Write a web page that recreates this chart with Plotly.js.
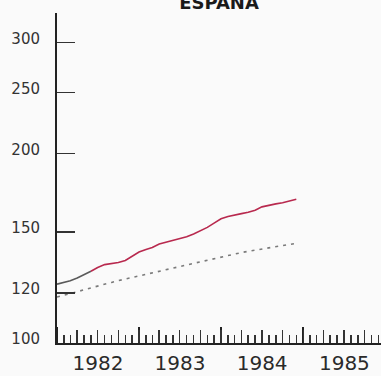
<!DOCTYPE html>
<html>
<head>
<meta charset="utf-8">
<script src="https://cdn.plot.ly/plotly-3.0.1.min.js"></script>
<style>
html,body{margin:0;padding:0;background:#fafafa;}
#chart{width:381px;height:376px;}
</style>
</head>
<body>
<div id="chart"></div>
<script>
// Monthly dates Jan 1982 .. Dec 1984
const months = [
 '1982-01-01','1982-02-01','1982-03-01','1982-04-01','1982-05-01','1982-06-01',
 '1982-07-01','1982-08-01','1982-09-01','1982-10-01','1982-11-01','1982-12-01',
 '1983-01-01','1983-02-01','1983-03-01','1983-04-01','1983-05-01','1983-06-01',
 '1983-07-01','1983-08-01','1983-09-01','1983-10-01','1983-11-01','1983-12-01',
 '1984-01-01','1984-02-01','1984-03-01','1984-04-01','1984-05-01','1984-06-01',
 '1984-07-01','1984-08-01','1984-09-01','1984-10-01','1984-11-01','1984-12-01'
];
// Solid series (index)
const solidValues = [
 124.0,124.8,125.6,126.8,128.2,130.0,131.8,133.2,133.8,134.2,135.2,137.5,
 139.5,140.8,141.8,143.6,144.6,145.6,146.5,147.5,149.0,150.8,152.6,155.0,
 157.5,158.8,159.8,160.5,161.3,162.5,164.5,165.5,166.3,167.0,168.0,169.2
];
// Dotted series (index)
const dottedValues = [
 118.3,119.0,119.8,120.6,121.5,122.4,123.2,124.0,124.8,125.6,126.3,127.0,
 127.7,128.4,129.1,129.8,130.6,131.4,132.2,133.0,133.8,134.6,135.4,136.2,
 137.0,137.8,138.6,139.2,139.8,140.4,141.0,141.6,142.2,142.8,143.4,144.0
];
const yTickVals = [100,120,150,200,250,300];
const yTickText = ['100','120','150','200','250','300'];
const titleText = 'ESPAÑA';

const split = 5;
const traces = [
  {x: months, y: dottedValues, mode:'lines', line:{color:'#7a7a7a', width:1.6, dash:'3px,5px'}, hoverinfo:'skip'},
  {x: months.slice(0, split+1), y: solidValues.slice(0, split+1), mode:'lines', line:{color:'#5a5a5a', width:1.6}, hoverinfo:'skip'},
  {x: months.slice(split), y: solidValues.slice(split), mode:'lines', line:{color:'#b8294e', width:1.6}, hoverinfo:'skip'},
  {x: months, y: dottedValues, xaxis:'x2', mode:'lines', line:{color:'rgba(0,0,0,0)', width:0}, hoverinfo:'skip'}
];

const xr = ['1982-01-01','1985-12-13'];
const layout = {
  width:381, height:376,
  margin:{l:57, r:0, t:13, b:33, pad:0},
  paper_bgcolor:'#fafafa', plot_bgcolor:'#fafafa',
  showlegend:false,
  font:{family:'DejaVu Sans', color:'#2a2a2a'},
  title:{text:titleText, x:0.5, xref:'paper', xanchor:'center', y:0.993, yref:'container', yanchor:'middle',
         font:{family:'DejaVu Sans', size:18, color:'#1a1a1a', weight:'bold'}},
  xaxis:{
    type:'date', range:xr, showgrid:false, zeroline:false,
    showline:true, linecolor:'#222', linewidth:2,
    ticks:'inside', ticklen:16, tickwidth:2, tickcolor:'#222',
    dtick:'M12', tick0:'1982-01-01', tickformat:'%Y', ticklabelmode:'period',
    tickfont:{size:20, color:'#2a2a2a'}, ticklabelstandoff:1,
    minor:{dtick:'M1', tick0:'1982-01-01', ticks:'inside', ticklen:8, tickwidth:1.5, tickcolor:'#333', showgrid:false}
  },
  xaxis2:{
    type:'date', range:xr, overlaying:'x', anchor:'y', side:'bottom',
    showgrid:false, zeroline:false, showline:false, showticklabels:false,
    ticks:'inside', ticklen:13, tickwidth:1.5, tickcolor:'#333',
    dtick:'M3', tick0:'1982-01-01'
  },
  yaxis:{
    type:'log', range:[2, 2.524], showgrid:false, zeroline:false,
    showline:true, linecolor:'#222', linewidth:2,
    ticks:'inside', ticklen:18, tickwidth:1.5, tickcolor:'#333',
    tickvals:yTickVals, ticktext:yTickText,
    tickfont:{size:15, color:'#333'}, ticklabelstandoff:12, ticklabelshift:-4
  }
};
Plotly.newPlot('chart', traces, layout, {staticPlot:true, displayModeBar:false});
</script>
</body>
</html>
